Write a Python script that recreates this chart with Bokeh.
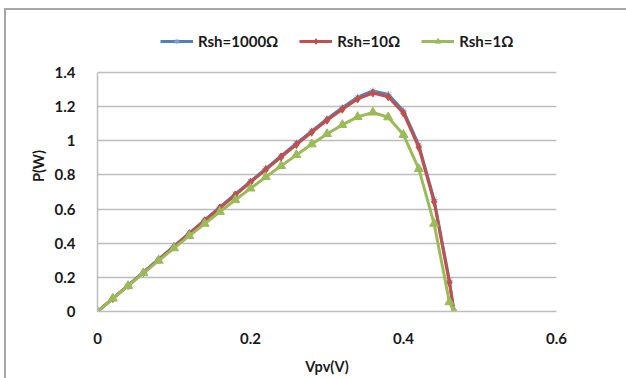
from bokeh.plotting import figure
from bokeh.models import Legend, LegendItem, FixedTicker, CustomJSTickFormatter, LinearAxis, Range1d
from bokeh.embed import file_html
from bokeh.resources import INLINE

vpv = [0, 0.02, 0.04, 0.06, 0.08, 0.10, 0.12, 0.14, 0.16, 0.18, 0.20, 0.22, 0.24,
       0.26, 0.28, 0.30, 0.32, 0.34, 0.36, 0.38, 0.40, 0.42, 0.44, 0.46, 0.466]
p_1000 = [0, 0.077, 0.153, 0.230, 0.306, 0.383, 0.459, 0.535, 0.611, 0.687, 0.762, 0.837, 0.911,
          0.985, 1.057, 1.128, 1.193, 1.255, 1.292, 1.272, 1.175, 0.975, 0.655, 0.180, 0]
p_10 = [0, 0.076, 0.152, 0.228, 0.304, 0.380, 0.456, 0.531, 0.607, 0.682, 0.757, 0.831, 0.905,
        0.978, 1.050, 1.120, 1.185, 1.245, 1.280, 1.258, 1.162, 0.962, 0.643, 0.170, 0]
p_1 = [0, 0.076, 0.150, 0.225, 0.298, 0.371, 0.443, 0.514, 0.584, 0.653, 0.721, 0.788, 0.853,
       0.917, 0.980, 1.040, 1.093, 1.140, 1.166, 1.138, 1.035, 0.835, 0.515, 0.055, 0]
series_names = ["Rsh=1000\u03a9", "Rsh=10\u03a9", "Rsh=1\u03a9"]
x_ticks = [0, 0.2, 0.4, 0.6]
y_ticks = [0, 0.2, 0.4, 0.6, 0.8, 1.0, 1.2, 1.4]

FONT = "Lato"
GRID = "#bdbdbd"

# frame spans page y 20..311; value 1.4 sits at page y 72
Y_TOP = 1.4 * 291 / 239

p = figure(frame_width=459, frame_height=291, output_backend="svg", toolbar_location=None,
           x_range=Range1d(0, 0.6), y_range=Range1d(0, Y_TOP),
           min_border_left=91, min_border_right=70, min_border_top=10, min_border_bottom=67,
           x_axis_location=None, y_axis_location=None)
p.styles = {"margin-left": "4px", "margin-top": "8px",
            "border-left": "2px solid #a8a8a8", "border-top": "2px solid #a8a8a8"}
p.outline_line_color = None
p.background_fill_color = "white"
p.border_fill_color = "white"

fmt = CustomJSTickFormatter(code="return String(Math.round(tick*10)/10);")

xa = LinearAxis(ticker=FixedTicker(ticks=x_ticks), formatter=fmt, axis_label="Vpv(V)")
ya = LinearAxis(ticker=FixedTicker(ticks=y_ticks), formatter=fmt, axis_label="P(W)",
                bounds=(0, 1.4))
for ax in (xa, ya):
    ax.major_tick_line_color = None
    ax.minor_tick_line_color = None
    ax.axis_line_color = GRID
    ax.axis_line_width = 1.5
    ax.major_label_text_font = FONT
    ax.major_label_text_font_style = "bold"
    ax.major_label_text_font_size = "15px"
    ax.major_label_text_color = "#1a1a1a"
    ax.axis_label_text_font = FONT
    ax.axis_label_text_font_style = "bold"
    ax.axis_label_text_font_size = "14.5px"
    ax.axis_label_text_color = "#1a1a1a"
xa.major_label_standoff = 15
xa.axis_label_standoff = 11
ya.major_label_standoff = 16
ya.axis_label_standoff = 5
p.add_layout(xa, "below")
p.add_layout(ya, "left")

p.xgrid.grid_line_color = None
p.ygrid.ticker = FixedTicker(ticks=y_ticks)
p.ygrid.grid_line_color = GRID
p.ygrid.grid_line_width = 1.5
p.ygrid.level = "underlay"

l1 = p.line(vpv, p_1000, line_color="#4F81BD", line_width=3)
m1 = p.scatter(vpv, p_1000, marker="asterisk", size=7, line_color="#7FA7DC", line_width=1)
l2 = p.line(vpv, p_10, line_color="#C0504D", line_width=3)
m2 = p.scatter(vpv, p_10, marker="diamond", size=8, fill_color="#C0504D", line_color="#C0504D")
l3 = p.line(vpv, p_1, line_color="#9BBB59", line_width=3)
m3 = p.scatter(vpv, p_1, marker="triangle", size=9, fill_color="#9BBB59", line_color="#9BBB59")

legend = Legend(items=[LegendItem(label=series_names[0], renderers=[l1, m1]),
                       LegendItem(label=series_names[1], renderers=[l2, m2]),
                       LegendItem(label=series_names[2], renderers=[l3, m3])],
                orientation="horizontal", location=(63, 261),
                glyph_width=33, glyph_height=14, label_standoff=5, spacing=21,
                padding=2, margin=0, border_line_color=None, background_fill_alpha=0,
                label_text_font=FONT, label_text_font_style="bold",
                label_text_font_size="15px", label_text_color="#1a1a1a")
p.add_layout(legend, "center")

open("out.html", "w").write(file_html(p, INLINE))
